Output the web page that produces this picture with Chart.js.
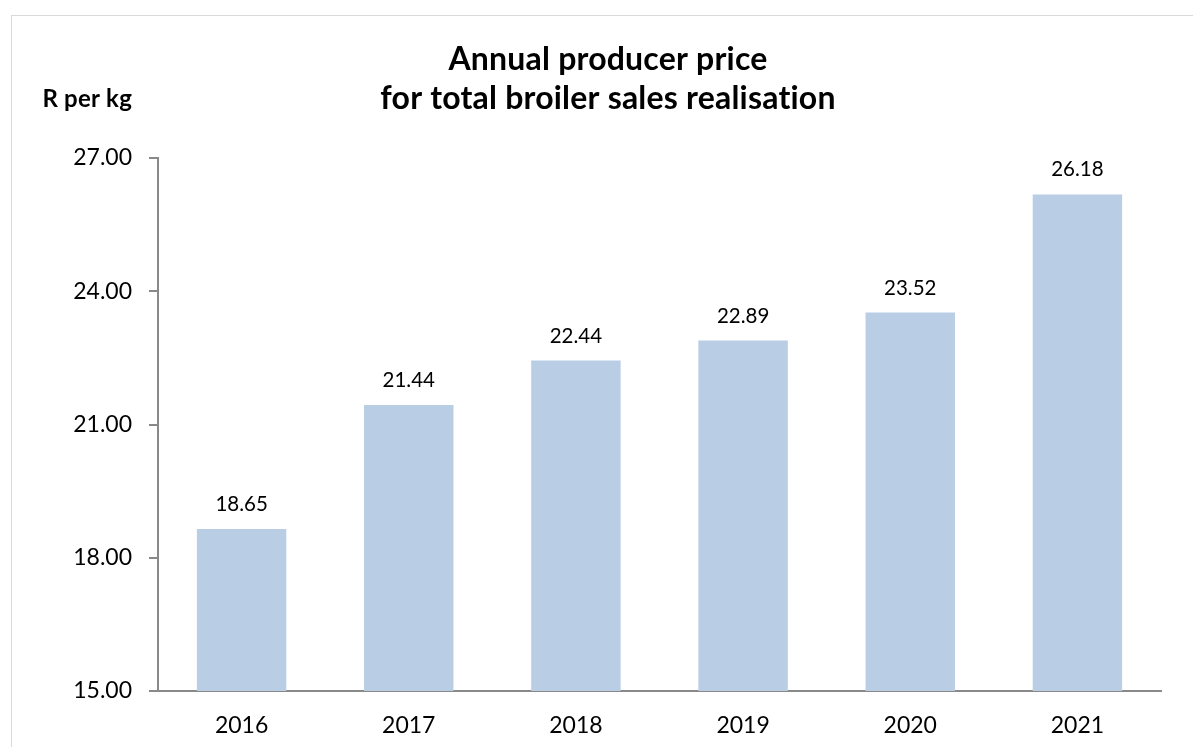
<!DOCTYPE html>
<html>
<head>
<meta charset="utf-8">
<script src="https://cdn.jsdelivr.net/npm/chart.js@4"></script>
<style>
    html, body { margin: 0; padding: 0; background: #fff; overflow: hidden; }
    #wrap { position: relative; width: 1193px; height: 747px; }
    #frame { position: absolute; left: 11px; top: 15px; width: 1300px; height: 800px; border: 1px solid #d9d9d9; }
    #priceChart { position: absolute; left: 0; top: 0; }
</style>
</head>
<body>
<div id="wrap">
    <div id="frame"></div>
    <canvas id="priceChart" width="1193" height="747"></canvas>
</div>
<script>
// producer price per year, R per kg
const years = ['2016', '2017', '2018', '2019', '2020', '2021'];
const prices = [18.65, 21.44, 22.44, 22.89, 23.52, 26.18];
const yTicks = [15, 18, 21, 24, 27];

const titleLines = ['Annual producer price', 'for total broiler sales realisation'];
const unitLabel = 'R per kg';

const fontFamily = 'Lato, "Open Sans", sans-serif';

// title, unit label and the value above each bar
const textPlugin = {
    id: 'chartText',
    afterDraw: function (chart) {
        const ctx = chart.ctx;
        ctx.save();
        ctx.fillStyle = '#000';
        ctx.letterSpacing = '0.2px'; // keeps "ti" from turning into a ligature

        ctx.font = 'bold 32px ' + fontFamily;
        ctx.textAlign = 'center';
        ctx.textBaseline = 'alphabetic';
        ctx.fillText(titleLines[0], 608, 70);
        ctx.fillText(titleLines[1], 608, 109);

        ctx.font = 'bold 24px ' + fontFamily;
        ctx.textAlign = 'right';
        ctx.fillText(unitLabel, 132, 107);

        ctx.letterSpacing = '0px';
        ctx.font = '20.5px ' + fontFamily;
        ctx.textAlign = 'center';
        const meta = chart.getDatasetMeta(0);
        meta.data.forEach(function (bar, i) {
            ctx.fillText(prices[i].toFixed(2), bar.x, bar.y - 18);
        });
        ctx.restore();
    }
};

new Chart(document.getElementById('priceChart'), {
    type: 'bar',
    data: {
        labels: years,
        datasets: [
            {
                data: prices,
                backgroundColor: '#B9CDE5',
                categoryPercentage: 1,
                barPercentage: 0.535,
            }
        ]
    },
    options: {
        responsive: false,
        animation: false,
        layout: {
            padding: { top: 158, right: 32, left: 0, bottom: 0 }
        },
        plugins: {
            legend: { display: false },
            tooltip: { enabled: false }
        },
        scales: {
            x: {
                grid: { drawOnChartArea: false, drawTicks: false },
                border: { color: '#898989', width: 2 },
                ticks: {
                    color: '#000',
                    padding: 21,
                    font: { family: fontFamily, size: 23 }
                },
                afterFit: function (scale) { scale.height = 56; }
            },
            y: {
                min: 15,
                max: 27,
                afterBuildTicks: function (scale) {
                    scale.ticks = yTicks.map(function (v) { return { value: v }; });
                },
                grid: { drawOnChartArea: false, tickLength: 9, color: '#898989', lineWidth: 2 },
                border: { color: '#898989', width: 2 },
                ticks: {
                    color: '#000',
                    padding: 17,
                    font: { family: fontFamily, size: 23 },
                    callback: function (v) { return Number(v).toFixed(2); }
                },
                afterFit: function (scale) { scale.width = 158; }
            }
        }
    },
    plugins: [textPlugin]
});
</script>
</body>
</html>
